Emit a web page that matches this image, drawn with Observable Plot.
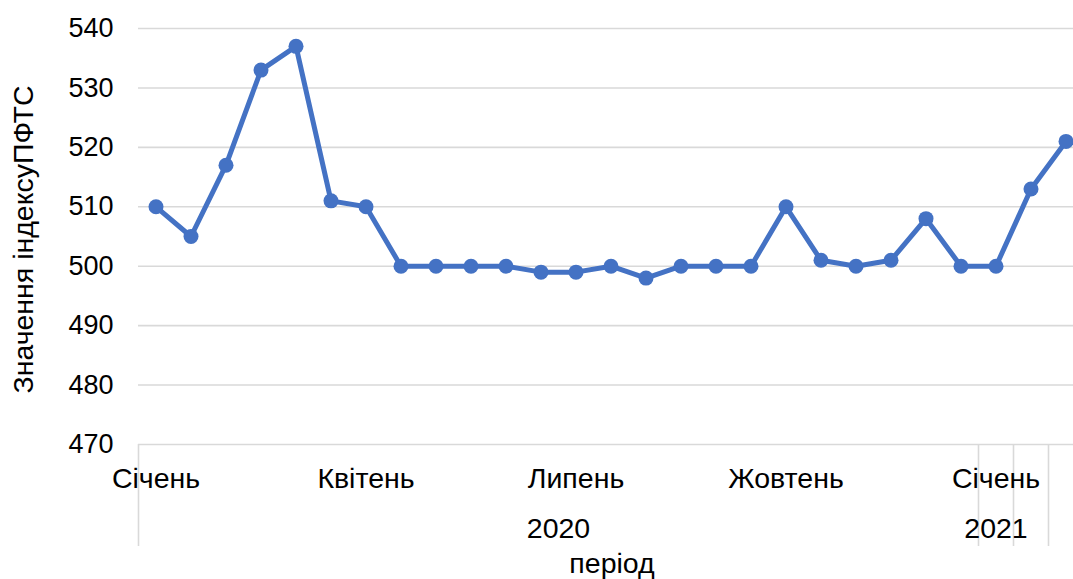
<!DOCTYPE html>
<html>
<head>
<meta charset="utf-8">
<script src="https://cdn.jsdelivr.net/npm/d3@7"></script>
<script src="https://cdn.jsdelivr.net/npm/@observablehq/plot@0.6"></script>
<style>
  html, body { margin: 0; padding: 0; background: #fff; overflow: hidden; }
</style>
</head>
<body>
<div id="chart"></div>
<script>
// Data
const values = [510, 505, 517, 533, 537, 511, 510, 500, 500, 500, 500, 499, 499, 500, 498, 500, 500, 500, 510, 501, 500, 501, 508, 500, 500, 513, 521];
const monthLabels = ["Січень", "Квітень", "Липень", "Жовтень", "Січень"];
const monthIndex = [0, 6, 12, 18, 24];
const yearLabels = ["2020", "2021"];
const yearStart = [0, 24];
const yearEnd = [23, 24];
const separators = [-0.5, 23.5, 24.5, 25.5];
const yTicks = [470, 480, 490, 500, 510, 520, 530, 540];
const yTitle = "Значення індексуПФТС";
const xTitle = "період";

const points = values.map((v, i) => ({i, v}));
const months = monthLabels.map((m, k) => ({label: m, i: monthIndex[k]}));
const years = yearLabels.map((y, k) => ({label: y, i: (yearStart[k] + yearEnd[k]) / 2}));

const blue = "#4472C4";
const grid = "#d9d9d9";
const fs = 28.5;

const chart = Plot.plot({
  width: 1073,
  height: 579,
  marginLeft: 138,
  marginRight: 0,
  marginTop: 28,
  marginBottom: 135,
  style: {fontFamily: "'Liberation Sans', Arial, sans-serif", fontSize: "27px", color: "#000", background: "#fff"},
  x: {type: "linear", domain: [-0.5, 26.5], range: [138, 1083], axis: null},
  y: {domain: [470, 540], ticks: yTicks},
  marks: [
    Plot.gridY(yTicks, {stroke: grid, strokeOpacity: 1, strokeWidth: 1.6}),
    Plot.axisY(yTicks, {tickSize: 0, tickPadding: 25, fontSize: 27, label: null, fill: "#000"}),
    Plot.ruleX(separators, {x: d => d, stroke: grid, strokeWidth: 1.6, insetTop: 416, insetBottom: -102}),
    Plot.line(points, {x: "i", y: "v", stroke: blue, strokeWidth: 5, strokeLinejoin: "round", strokeLinecap: "round"}),
    Plot.dot(points, {x: "i", y: "v", r: 7.5, fill: blue, stroke: null}),
    Plot.text(months, {x: "i", text: "label", frameAnchor: "bottom", lineAnchor: "middle", dy: 34, fontSize: fs, fill: "#000"}),
    Plot.text(years, {x: "i", text: "label", frameAnchor: "bottom", lineAnchor: "middle", dy: 84, fontSize: fs, fill: "#000"}),
    Plot.text([xTitle], {text: d => d, frameAnchor: "bottom", lineAnchor: "middle", dy: 119, dx: 6, fontSize: fs, fill: "#000"}),
    Plot.text([yTitle], {text: d => d, frameAnchor: "left", textAnchor: "middle", lineAnchor: "middle", dx: -115, dy: 3, rotate: -90, fontSize: fs, fill: "#000"})
  ]
});
document.getElementById("chart").appendChild(chart);
</script>
</body>
</html>
